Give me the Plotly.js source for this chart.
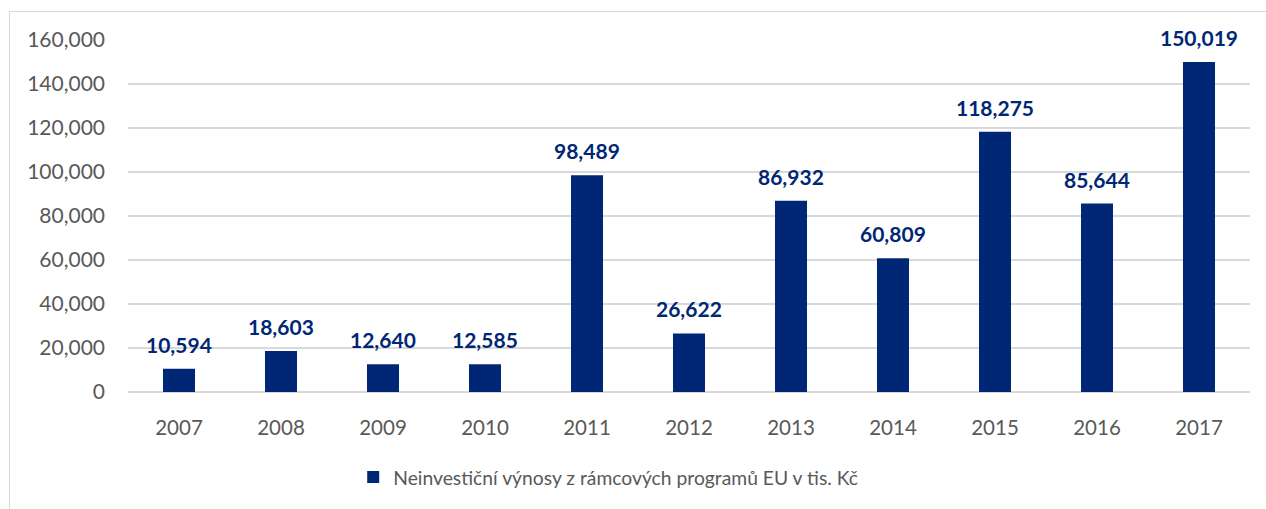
<!DOCTYPE html>
<html>
<head>
<meta charset="utf-8">
<script src="https://cdn.plot.ly/plotly-3.0.1.min.js"></script>
<style>
  html, body { margin: 0; padding: 0; background: #ffffff; }
  #wrap { position: relative; width: 1266px; height: 509px; }
  #frame { position: absolute; left: 9px; top: 11px; width: 1300px; height: 600px;
           border-left: 1px solid #d9d9d9; border-top: 1px solid #d9d9d9; pointer-events: none; }
  #chart { position: absolute; left: 0; top: 0; width: 1266px; height: 509px; }
</style>
</head>
<body>
<div id="wrap">
  <div id="chart"></div>
  <div id="frame"></div>
</div>
<script>
const years = ['2007','2008','2009','2010','2011','2012','2013','2014','2015','2016','2017'];
const values = [10594, 18603, 12640, 12585, 98489, 26622, 86932, 60809, 118275, 85644, 150019];
const seriesName = 'Neinvestiční výnosy z rámcových programů EU v tis. Kč';

const navy = '#002776';
const fontFamily = 'Lato, "Open Sans", sans-serif';

const trace = {
  type: 'bar',
  x: years,
  y: values,
  name: seriesName,
  marker: { color: navy },
  hoverinfo: 'x+y',
  showlegend: true
};

// annotations placed by category index on the category axis
const annotations = years.map((yr, i) => ({
  x: i,
  y: values[i],
  xref: 'x',
  yref: 'y',
  text: values[i].toLocaleString('en-US'),
  showarrow: false,
  yanchor: 'bottom',
  xanchor: 'center',
  yshift: 10,
  font: { family: fontFamily, size: 21, color: navy, weight: 'bold' }
}));

const layout = {
  width: 1266,
  height: 509,
  margin: { l: 128, r: 16, t: 40, b: 115 },
  paper_bgcolor: 'rgba(0,0,0,0)',
  plot_bgcolor: '#ffffff',
  bargap: 0.686,
  font: { family: fontFamily, color: '#595959', size: 20 },
  xaxis: {
    type: 'category',
    range: [-0.5, years.length - 0.5],
    autorange: false,
    showgrid: false,
    showline: false,
    ticks: '',
    ticklabelstandoff: 21,
    tickfont: { family: fontFamily, size: 20.5, color: '#595959' }
  },
  yaxis: {
    range: [0, 160000],
    autorange: false,
    dtick: 20000,
    tick0: 0,
    tickformat: ',',
    showgrid: true,
    gridcolor: '#d9d9d9',
    gridwidth: 1.3,
    zeroline: true,
    zerolinecolor: '#d9d9d9',
    zerolinewidth: 1.3,
    showline: false,
    ticks: '',
    ticklabelstandoff: 22,
    tickfont: { family: fontFamily, size: 21, color: '#595959' }
  },
  showlegend: true,
  legend: {
    orientation: 'h',
    x: 0.428,
    xanchor: 'center',
    xref: 'paper',
    y: -0.243,
    yanchor: 'middle',
    font: { family: fontFamily, size: 19.3, color: '#595959' },
    itemwidth: 30
  },
  annotations: annotations
};

Plotly.newPlot('chart', [trace], layout, { displayModeBar: false, staticPlot: true });
</script>
</body>
</html>
